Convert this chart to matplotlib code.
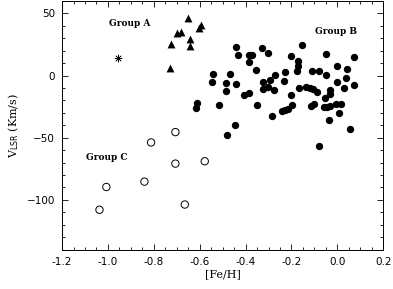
import matplotlib
matplotlib.use("Agg")
import matplotlib.pyplot as plt
from matplotlib.ticker import MultipleLocator

# Group A (triangles)
feh_a = [-0.652, -0.594, -0.603, -0.700, -0.681, -0.642, -0.725, -0.642, -0.728]
v_a = [46.3, 40.6, 38.0, 33.9, 34.7, 29.3, 25.5, 23.9, 5.9]

# single star (asterisk)
feh_star = [-0.955]
v_star = [14.0]

# Group B (filled circles)
feh_b = [-0.443, -0.435, -0.387, -0.373, -0.383, -0.329, -0.302, -0.156, -0.200, -0.172,
         -0.172, -0.177, -0.049, 0.073, -0.540, -0.467, -0.547, -0.486, -0.441, -0.485,
         -0.354, -0.271, -0.229, -0.326, -0.294, -0.232, -0.111, -0.078, -0.049, -0.002,
         0.041, 0.036, -0.001, 0.072, 0.031, -0.322, -0.303, -0.278, -0.409, -0.383,
         -0.203, -0.168, -0.136, -0.118, -0.104, -0.089, -0.031, -0.031, -0.053, -0.515,
         -0.351, -0.198, -0.242, -0.226, -0.213, -0.114, -0.100, -0.060, -0.043, -0.034,
         -0.007, 0.018, 0.009, -0.283, -0.037, -0.444, -0.479, 0.056, -0.078, -0.610,
         -0.616]
v_b = [22.6, 16.7, 16.4, 16.4, 10.5, 22.0, 18.0, 24.7, 15.9, 11.5,
       7.8, 3.8, 17.5, 14.5, 1.3, 1.3, -4.9, -5.9, -7.0, -12.1,
       4.3, 0.8, 2.9, -5.1, -3.5, -4.3, 3.5, 3.5, 0.8, 7.5,
       5.6, -1.6, -5.4, -7.6, -10.2, -11.0, -9.2, -11.9, -15.6, -14.3,
       -15.9, -9.7, -8.9, -9.7, -11.0, -12.9, -11.3, -15.1, -18.3, -23.7,
       -24.0, -23.4, -28.8, -28.0, -27.2, -24.2, -23.2, -25.6, -25.0, -24.5,
       -23.2, -23.2, -29.9, -32.9, -35.8, -40.1, -48.2, -43.3, -56.8, -22.4,
       -25.8]

# Group C (open circles)
feh_c = [-0.706, -0.812, -0.706, -0.578, -1.007, -0.841, -1.037, -0.665]
v_c = [-45.5, -53.8, -70.8, -68.9, -89.6, -85.3, -107.9, -103.7]

fig = plt.figure(figsize=(3.93, 2.89), dpi=100)
ax = fig.add_axes([0.158, 0.136, 0.817, 0.861])

ax.scatter(feh_b, v_b, s=28, c='black', marker='o', linewidths=0)
ax.scatter(feh_a, v_a, s=32, c='black', marker='^', linewidths=0)
ax.scatter(feh_c, v_c, s=28, facecolors='none', edgecolors='black', marker='o', linewidths=0.7)
ax.scatter(feh_star, v_star, s=26, c='black', marker=(8, 2, 0), linewidths=0.45)

gfont = dict(family='DejaVu Serif', fontweight='bold', fontsize=6.5, va='center')
ax.text(-0.995, 42, 'Group A', **gfont)
ax.text(-0.097, 35, 'Group B', **gfont)
ax.text(-1.095, -66, 'Group C', **gfont)

ax.set_xlim(-1.2, 0.2)
ax.set_ylim(-140, 60)
ax.xaxis.set_major_locator(MultipleLocator(0.2))
ax.xaxis.set_minor_locator(MultipleLocator(0.05))
ax.yaxis.set_major_locator(MultipleLocator(50))
ax.yaxis.set_minor_locator(MultipleLocator(10))
ax.tick_params(which='both', direction='in', top=True, right=True, width=0.6, labelsize=7.5, pad=5)
ax.tick_params(which='major', length=4.5)
ax.tick_params(which='minor', length=2)
ax.set_xticks(ax.get_xticks())
ax.set_xticklabels(['%.1f' % t if abs(t) > 1e-9 else '0.0' for t in ax.get_xticks()])
ax.set_xlim(-1.2, 0.2)
for s in ax.spines.values():
    s.set_linewidth(0.7)

ax.set_xlabel('[Fe/H]', family='DejaVu Serif', fontsize=8, labelpad=2)
ax.set_ylabel(r'V$_{\mathrm{LSR}}$ (Km/s)', family='DejaVu Serif', fontsize=8, labelpad=4)

fig.savefig('out.png', dpi=100)
